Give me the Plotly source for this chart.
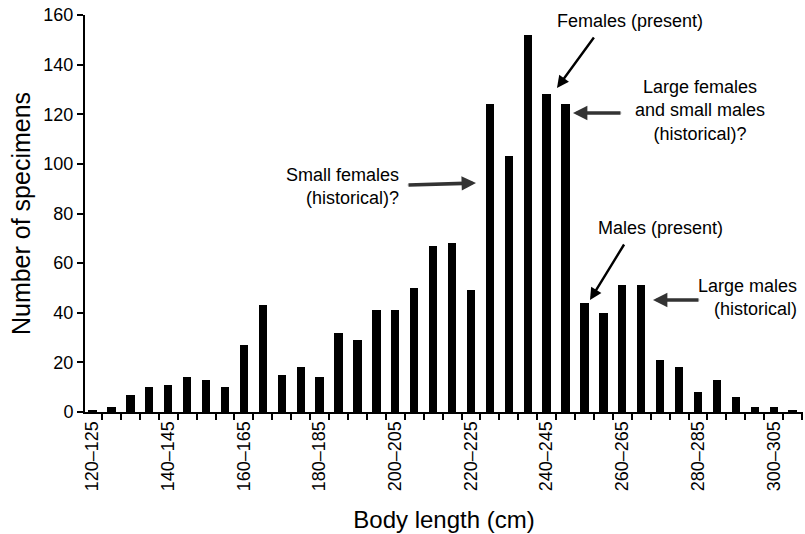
import plotly.graph_objects as go

bin_starts = list(range(120, 310, 5))
bin_labels = [f"{s}\u2013{s+5}" for s in bin_starts]
counts = [1, 2, 7, 10, 11, 14, 13, 10, 27, 43, 15, 18, 14, 32, 29, 41, 41, 50, 67, 68,
          49, 124, 103, 152, 128, 124, 44, 40, 51, 51, 21, 18, 8, 13, 6, 2, 2, 1]
label_every = 4

xs = list(range(len(bin_starts)))
tickvals = xs[::label_every]
ticktext = bin_labels[::label_every]

FONT = "Liberation Sans, Arial, Helvetica, sans-serif"

fig = go.Figure(go.Bar(x=xs, y=counts, width=0.44, marker=dict(color="black", line=dict(width=0))))

W, H = 805, 534
L, R, T, B = 85, 2, 15, 122
x0, x1 = -0.4, 37.55
y0, y1 = 0, 160

def px2data(px, py):
    dx = x0 + (px - L) / (W - L - R) * (x1 - x0)
    dy = y0 + (H - B - py) / (H - B - T) * (y1 - y0)
    return dx, dy

annos = []
shapes = []
def text(px, py, s, align="center", xanchor="center"):
    x, y = px2data(px, py)
    annos.append(dict(x=x, y=y, xref="x", yref="y", text=s, showarrow=False, align=align,
                      xanchor=xanchor, yanchor="middle", font=dict(size=18, color="black", family=FONT)))

def arrow(tail, head, color="black", width=2.4, hollow=False):
    x, y = px2data(*head)
    ax, ay = tail[0] - head[0], tail[1] - head[1]
    annos.append(dict(x=x, y=y, xref="x", yref="y", text="", showarrow=True, ax=ax, ay=ay,
                      arrowhead=2, arrowsize=1.0 if not hollow else 0.8, arrowwidth=width,
                      arrowcolor=color, standoff=0, startstandoff=0))
    if hollow:
        tx, ty = px2data(*tail)
        f = 0.72
        hx, hy = px2data(tail[0] + f * (head[0] - tail[0]), tail[1] + f * (head[1] - tail[1]))
        shapes.append(dict(type="line", xref="x", yref="y", x0=tx, y0=ty, x1=hx, y1=hy,
                           line=dict(color="#d8d8d8", width=1.2)))

text(630, 21, "Females (present)")
arrow((595, 36), (557, 88))
text(700, 110, "Large females<br>and small males<br>(historical)?")
arrow((622, 113), (573, 113), color="#333", width=3.6, hollow=True)
text(401, 186, "Small females<br>(historical)?", align="right", xanchor="right")
arrow((407, 185), (476, 183), color="#333", width=3.6, hollow=True)
text(660, 228, "Males (present)")
arrow((625, 243), (590, 300))
text(799, 297, "Large males<br>(historical)", align="right", xanchor="right")
arrow((700, 300), (653, 300), color="#333", width=3.6, hollow=True)

fig.update_layout(
    width=W, height=H,
    margin=dict(l=L, r=R, t=T, b=B),
    plot_bgcolor="white", paper_bgcolor="white",
    showlegend=False,
    font=dict(family=FONT, color="black", size=18),
    annotations=annos,
    shapes=shapes,
    bargap=0,
)
fig.update_xaxes(
    range=[x0, x1], tickmode="array", tickvals=tickvals, ticktext=ticktext,
    tickangle=-90, ticks="", showgrid=False, zeroline=False, automargin=False,
    showline=True, linecolor="black", linewidth=2,
    tickfont=dict(size=18, family=FONT, color="black"),
    minor=dict(ticks="outside", tick0=-0.5, dtick=1, ticklen=6, tickwidth=2, tickcolor="black", showgrid=False),
    title=dict(text="Body length (cm)", font=dict(size=24, family=FONT, color="black"), standoff=21),
)
fig.update_yaxes(
    range=[y0, y1], tickvals=list(range(0, 161, 20)), ticks="outside", ticklen=6, tickwidth=2,
    tickcolor="black", showgrid=False, zeroline=False, automargin=False,
    showline=True, linecolor="black", linewidth=2,
    tickfont=dict(size=18, family=FONT, color="black"),
    title=dict(text="Number of specimens", font=dict(size=25, family=FONT, color="black"), standoff=6),
)

fig.write_html("out.html", config={"displayModeBar": False},
               post_script="document.body.style.margin='0';document.body.style.overflow='hidden';")
